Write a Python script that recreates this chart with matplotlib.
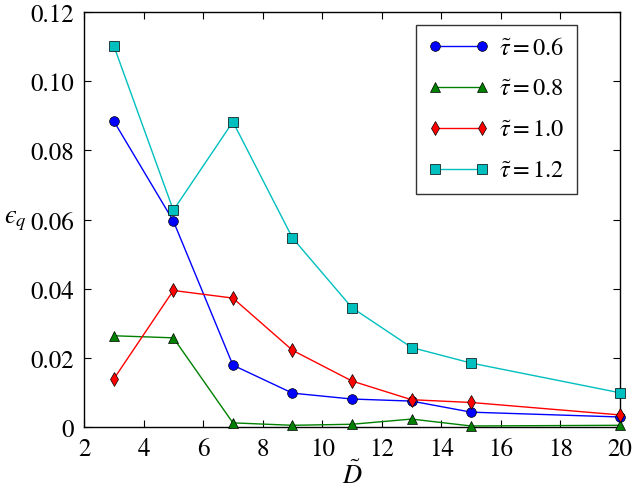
import matplotlib
matplotlib.use("Agg")
import matplotlib.pyplot as plt

plt.rcParams['font.family'] = ['STIXGeneral', 'Liberation Serif', 'DejaVu Serif']
plt.rcParams['mathtext.fontset'] = 'stix'

D = [3, 5, 7, 9, 11, 13, 15, 20]
tau06 = [0.0885, 0.0596, 0.0179, 0.0098, 0.0081, 0.0075, 0.0043, 0.0029]
tau08 = [0.0264, 0.0258, 0.0012, 0.0005, 0.0008, 0.0023, 0.0003, 0.0005]
tau10 = [0.0139, 0.0395, 0.0373, 0.0222, 0.0133, 0.0079, 0.0071, 0.0035]
tau12 = [0.1103, 0.0627, 0.0883, 0.0547, 0.0345, 0.0230, 0.0185, 0.0099]
labels = [r'$\tilde{\tau}=0.6$', r'$\tilde{\tau}=0.8$', r'$\tilde{\tau}=1.0$', r'$\tilde{\tau}=1.2$']
xticks = [2, 4, 6, 8, 10, 12, 14, 16, 18, 20]
yticks = [0, 0.02, 0.04, 0.06, 0.08, 0.10, 0.12]
yticklabels = ['0', '0.02', '0.04', '0.06', '0.08', '0.10', '0.12']

fig = plt.figure(figsize=(6.34, 4.89), dpi=100)
ax = fig.add_axes([0.1325, 0.1247, 0.8455, 0.8483])

styles = [('b', 'o', 7), ('g', '^', 7), ('r', 'd', 7), ('c', 's', 6.5)]
for y, lab, (c, m, ms) in zip([tau06, tau08, tau10, tau12], labels, styles):
    ax.plot(D, y, color=c, marker=m, markersize=ms, markeredgecolor='k',
            markeredgewidth=0.5, linewidth=1.0, label=lab, clip_on=False, zorder=3)

ax.set_xlim(2, 20)
ax.set_ylim(0, 0.12)
ax.set_xticks(xticks)
ax.set_yticks(yticks)
ax.set_yticklabels(yticklabels)
ax.tick_params(direction='in', top=True, right=True, labelsize=18, length=5, pad=7)
for s in ax.spines.values():
    s.set_linewidth(1.0)
ax.set_xlabel(r'$\tilde{D}$', fontsize=19, labelpad=0)
ax.set_ylabel('$\u03f5_q$', fontsize=19, rotation=0, va='center', labelpad=11)
leg = ax.legend(loc='upper right', bbox_to_anchor=(577 / 634, 1 - 26 / 489),
                bbox_transform=fig.transFigure, borderaxespad=0,
                fontsize=17.5, frameon=True, fancybox=False, numpoints=2,
                edgecolor='k', borderpad=0.5, labelspacing=0.78, handlelength=2.55,
                handletextpad=0.4)
leg.get_frame().set_linewidth(1.0)

fig.savefig('out.png', dpi=100)
